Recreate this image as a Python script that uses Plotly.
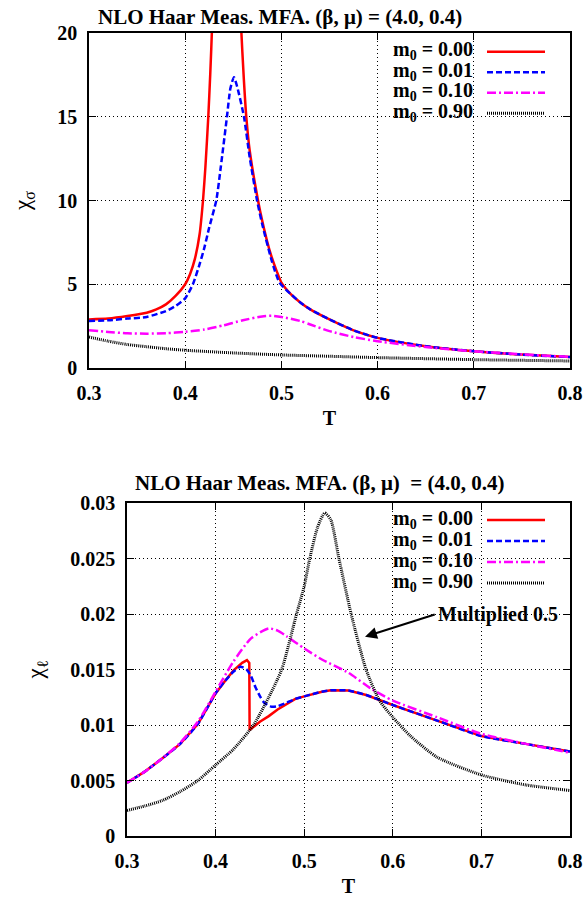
import plotly.graph_objects as go

# ---------------- data ----------------
# Top panel: chi_sigma vs T
T_s_m000 = [0.30, 0.32, 0.34, 0.36, 0.37, 0.38, 0.39, 0.40, 0.405, 0.41, 0.415, 0.4185, 0.421, 0.424,
            0.426, 0.428, 0.432, 0.436, 0.440, 0.446, 0.452, 0.456, 0.458, 0.461, 0.4635, 0.467,
            0.4757, 0.48, 0.485, 0.49, 0.495, 0.50, 0.51, 0.52, 0.53, 0.55, 0.575, 0.60, 0.65,
            0.70, 0.75, 0.80]
chi_s_m000 = [2.9, 2.95, 3.1, 3.3, 3.5, 3.8, 4.3, 5.0, 5.6, 6.5, 8.0, 10.0, 12.0, 15.0,
              17.5, 20.5, 30.0, 50.0, 100.0, 100.0, 40.0, 24.0, 20.5, 17.2, 15.0, 13.0,
              10.0, 8.8, 7.6, 6.6, 5.8, 5.1, 4.4, 3.9, 3.5, 2.9, 2.25, 1.8, 1.3,
              1.0, 0.8, 0.65]

T_s_m001 = [0.30, 0.32, 0.34, 0.36, 0.38, 0.39, 0.40, 0.408, 0.415, 0.42, 0.425, 0.4323, 0.437,
            0.4434, 0.447, 0.4507, 0.454, 0.4611, 0.467, 0.4747, 0.48, 0.49, 0.498, 0.51, 0.52,
            0.53, 0.55, 0.575, 0.60, 0.65, 0.70, 0.75, 0.80]
chi_s_m001 = [2.8, 2.85, 2.95, 3.05, 3.4, 3.7, 4.16, 5.0, 6.2, 7.2, 8.4, 10.0, 12.0,
              15.0, 16.7, 17.36, 16.8, 15.0, 12.6, 10.0, 8.6, 6.4, 5.1, 4.4, 3.9,
              3.5, 2.9, 2.25, 1.8, 1.3, 1.0, 0.8, 0.65]

T_s_m010 = [0.30, 0.32, 0.34, 0.36, 0.38, 0.40, 0.42, 0.44, 0.46, 0.48, 0.49, 0.50, 0.52, 0.53,
            0.55, 0.575, 0.60, 0.65, 0.70, 0.75, 0.80]
chi_s_m010 = [2.26, 2.15, 2.07, 2.05, 2.08, 2.16, 2.3, 2.55, 2.85, 3.08, 3.12, 3.05, 2.8, 2.6,
              2.2, 1.85, 1.6, 1.25, 1.0, 0.82, 0.66]

T_s_m090 = [0.30, 0.32, 0.34, 0.36, 0.38, 0.40, 0.45, 0.50, 0.55, 0.60, 0.70, 0.80]
chi_s_m090 = [1.85, 1.6, 1.4, 1.27, 1.15, 1.06, 0.9, 0.78, 0.7, 0.62, 0.5, 0.42]

# Bottom panel: chi_l vs T (m0 = 0.90 multiplied by 0.5)
T_l_m000 = [0.30, 0.32, 0.34, 0.36, 0.38, 0.40, 0.41, 0.42, 0.43, 0.4354, 0.438, 0.4384,
            0.45, 0.46, 0.47, 0.48, 0.49, 0.50, 0.51, 0.52, 0.53, 0.54, 0.55, 0.57, 0.60,
            0.65, 0.70, 0.75, 0.80]
chi_l_m000 = [0.0048, 0.0058, 0.0070, 0.0083, 0.0101, 0.01285, 0.0139, 0.0149, 0.0156, 0.01585,
              0.0156, 0.00954, 0.0103, 0.0108, 0.0114, 0.0119, 0.01235, 0.01258, 0.0128,
              0.0130, 0.01312, 0.01314, 0.0131, 0.0127, 0.0118, 0.0104, 0.0090, 0.0083, 0.0076]

T_l_m001 = [0.30, 0.32, 0.34, 0.36, 0.38, 0.40, 0.41, 0.42, 0.428, 0.435, 0.44, 0.445, 0.45,
            0.455, 0.4634, 0.47, 0.48, 0.49, 0.50, 0.51, 0.52, 0.53, 0.54, 0.55, 0.57, 0.60,
            0.65, 0.70, 0.75, 0.80]
chi_l_m001 = [0.0048, 0.0058, 0.0070, 0.0083, 0.0101, 0.01285, 0.0139, 0.0148, 0.01525, 0.0150,
              0.0144, 0.0134, 0.0126, 0.0120, 0.01164, 0.0117, 0.0120, 0.01235, 0.01258, 0.0128,
              0.0130, 0.01312, 0.01314, 0.0131, 0.0127, 0.0118, 0.0104, 0.0090, 0.0083, 0.0076]

T_l_m010 = [0.30, 0.32, 0.34, 0.36, 0.38, 0.40, 0.42, 0.44, 0.46, 0.47, 0.48, 0.50, 0.52, 0.55,
            0.575, 0.60, 0.65, 0.70, 0.75, 0.80]
chi_l_m010 = [0.0048, 0.0058, 0.0070, 0.0084, 0.0103, 0.0130, 0.0157, 0.0178, 0.0187, 0.0185,
              0.0180, 0.0169, 0.0159, 0.0147, 0.0133, 0.0122, 0.0107, 0.0092, 0.0083, 0.0075]

T_l_m090 = [0.30, 0.32, 0.34, 0.36, 0.38, 0.40, 0.42, 0.4429, 0.46, 0.4746, 0.4914, 0.50, 0.5063,
            0.515, 0.5231, 0.53, 0.5392, 0.553, 0.5698, 0.585, 0.60, 0.62, 0.65, 0.70, 0.75, 0.80]
chi_l_m090 = [0.0023, 0.0027, 0.0032, 0.0040, 0.0050, 0.0064, 0.0078, 0.0100, 0.0125, 0.0150,
              0.0200, 0.0225, 0.0250, 0.0278, 0.0291, 0.0285, 0.0250, 0.0200, 0.0150, 0.0122,
              0.0107, 0.0090, 0.0071, 0.0055, 0.0046, 0.0041]

series_labels = ["0.00", "0.01", "0.10", "0.90"]
x_ticks = [0.3, 0.4, 0.5, 0.6, 0.7, 0.8]
x_ticktext = ["0.3", "0.4", "0.5", "0.6", "0.7", "0.8"]
ys_ticks = [0, 5, 10, 15, 20]
ys_ticktext = ["0", "5", "10", "15", "20"]
yl_ticks = [0, 0.005, 0.01, 0.015, 0.02, 0.025, 0.03]
yl_ticktext = ["0", "0.005", "0.01", "0.015", "0.02", "0.025", "0.03"]

title_top = "NLO Haar Meas. MFA. (β, μ) = (4.0, 0.4)"
title_bot = "NLO Haar Meas. MFA. (β, μ)  = (4.0, 0.4)"
note_text = "Multiplied 0.5"

# ---------------- styling ----------------
W, H = 587, 897
FONT = "Liberation Serif"
colors = ["#ff0000", "#0000ff", "#ff00ff", "#000000"]
dashes = ["solid", "6px,3px", "9px,3px,2px,3px", "1px,1px"]
widths = [2.5, 2.5, 2.5, 3]
# line shape per curve (the sharp drop of the m0=0 chi_l curve stays linear)
shapes_top = ["spline", "spline", "spline", "spline"]
shapes_bot = ["linear", "spline", "spline", "spline"]


def px(x):
    return x / W


def py(y):
    return 1 - y / H


fig = go.Figure()

top_sets = [(T_s_m000, chi_s_m000), (T_s_m001, chi_s_m001), (T_s_m010, chi_s_m010), (T_s_m090, chi_s_m090)]
bot_sets = [(T_l_m000, chi_l_m000), (T_l_m001, chi_l_m001), (T_l_m010, chi_l_m010), (T_l_m090, chi_l_m090)]

for i, (tx, ty) in enumerate(top_sets):
    fig.add_trace(go.Scatter(x=tx, y=ty, mode="lines", xaxis="x", yaxis="y",
                             name="m0 = " + series_labels[i], showlegend=False,
                             line=dict(color=colors[i], width=widths[i], dash=dashes[i],
                                       shape=shapes_top[i], smoothing=0.6)))
for i, (tx, ty) in enumerate(bot_sets):
    fig.add_trace(go.Scatter(x=tx, y=ty, mode="lines", xaxis="x2", yaxis="y2",
                             name="m0 = " + series_labels[i], showlegend=False,
                             line=dict(color=colors[i], width=widths[i], dash=dashes[i],
                                       shape=shapes_bot[i], smoothing=0.6)))

tickfont = dict(family=FONT, size=20, color="black", weight="bold")
axis_common = dict(showline=True, linecolor="black", linewidth=1.5, mirror="ticks",
                   ticks="inside", ticklen=7, tickwidth=1.2, tickcolor="black",
                   showgrid=True, gridcolor="black", gridwidth=1, griddash="1px,3px",
                   zeroline=False, tickfont=tickfont, automargin=False, ticklabelstandoff=6)

fig.update_layout(
    width=W, height=H, autosize=False,
    margin=dict(l=0, r=0, t=0, b=0),
    paper_bgcolor="white", plot_bgcolor="white",
    showlegend=False,
    xaxis=dict(domain=[px(89), px(570)], anchor="y", range=[0.3, 0.8],
               tickvals=x_ticks, ticktext=x_ticktext,
               title=dict(text="T", font=dict(family=FONT, size=20, color="black", weight="bold"), standoff=8),
               **axis_common),
    yaxis=dict(domain=[py(368), py(33)], anchor="x", range=[0, 20],
               tickvals=ys_ticks, ticktext=ys_ticktext,
               title=dict(text="χ<sub>σ</sub>", font=dict(family=FONT, size=23, color="black"), standoff=20),
               **axis_common),
    xaxis2=dict(domain=[px(127), px(570)], anchor="y2", range=[0.3, 0.8],
                tickvals=x_ticks, ticktext=x_ticktext,
                title=dict(text="T", font=dict(family=FONT, size=20, color="black", weight="bold"), standoff=8),
                **axis_common),
    yaxis2=dict(domain=[py(836), py(503)], anchor="x2", range=[0, 0.03],
                tickvals=yl_ticks, ticktext=yl_ticktext,
                title=dict(text="χ<sub>ℓ</sub>", font=dict(family=FONT, size=23, color="black"), standoff=20),
                **axis_common),
)

annotations = []
shapes = []

# panel titles
annotations.append(dict(text=title_top, xref="paper", yref="paper", x=px(280), y=py(17),
                        xanchor="center", yanchor="middle", showarrow=False,
                        font=dict(family=FONT, size=21, color="black", weight="bold")))
annotations.append(dict(text=title_bot, xref="paper", yref="paper", x=px(319.5), y=py(483),
                        xanchor="center", yanchor="middle", showarrow=False,
                        font=dict(family=FONT, size=21, color="black", weight="bold")))

# key boxes (white background hiding grid) and entries
key_tops = [(33, 124, [51.7, 72.3, 92.7, 113.3]), (503, 593, [520, 541, 562, 583])]
for (ytop, ybot, rows) in key_tops:
    shapes.append(dict(type="rect", xref="paper", yref="paper", layer="between",
                       x0=px(376), x1=px(558), y0=py(ybot), y1=py(ytop),
                       fillcolor="white", line=dict(width=0)))
    for i, ry in enumerate(rows):
        annotations.append(dict(text="m<sub>0</sub> = " + series_labels[i], xref="paper", yref="paper",
                                x=px(475), y=py(ry - 1), xanchor="right", yanchor="middle",
                                showarrow=False,
                                font=dict(family=FONT, size=20, color="black", weight="bold")))
        shapes.append(dict(type="line", xref="paper", yref="paper", layer="above",
                           x0=px(487), x1=px(545), y0=py(ry), y1=py(ry),
                           line=dict(color=colors[i], width=widths[i], dash=dashes[i])))

# "Multiplied 0.5" note with arrow
annotations.append(dict(text=note_text, xref="x2", yref="y2", x=0.649, y=0.0200,
                        xanchor="left", yanchor="middle", showarrow=False,
                        font=dict(family=FONT, size=20, color="black", weight="bold")))
annotations.append(dict(text="", xref="x2", yref="y2", x=0.5686, y=0.01795,
                        axref="x2", ayref="y2", ax=0.649, ay=0.0200,
                        showarrow=True, arrowhead=2, arrowsize=1.2, arrowwidth=2, arrowcolor="black"))

fig.update_layout(annotations=annotations, shapes=shapes)

fig.write_html("out.html", config={"displayModeBar": False},
               post_script="document.body.style.margin='0';")
